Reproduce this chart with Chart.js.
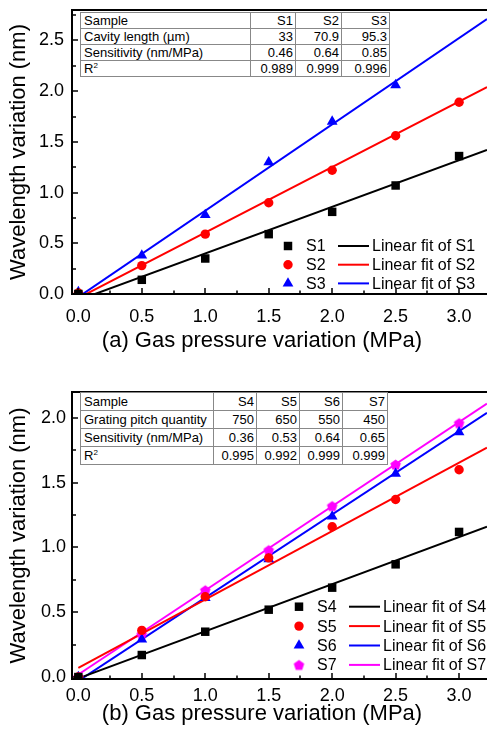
<!DOCTYPE html>
<html>
<head>
<meta charset="utf-8">
<script src="https://cdn.jsdelivr.net/npm/chart.js@4.4.4/dist/chart.umd.min.js"></script>
<style>
  body { margin: 0; background: #fff; font-family: "Liberation Sans", Arial, sans-serif; }
  .panel { position: absolute; left: 0; width: 487px; height: 366px; overflow: hidden; }
  .panel canvas { position: absolute; left: 0; top: 0; }
  table.info { position: absolute; border-collapse: collapse; table-layout: fixed; font-size: 13px; color: #000; background: #fff; }
  table.info td { border: 1px solid #888; padding: 0 2px; text-align: right; white-space: nowrap; overflow: hidden; }
  table.info td:first-child { text-align: left; padding-left: 3px; }
  #tblA td { line-height: 15px; }
  #tblB td { line-height: 17px; }
  table.info sup { font-size: 8px; vertical-align: 5px; line-height: 0; }
  .xtitle { position: absolute; font-size: 22px; line-height: 26px; white-space: nowrap; transform: translateX(-50%); }
</style>
</head>
<body>
<div class="panel" style="top:0"><canvas id="chartA" width="487" height="366"></canvas></div>
<div class="panel" style="top:366px"><canvas id="chartB" width="487" height="366"></canvas></div>

<table class="info" id="tblA" style="left:80px;top:12px;width:309px">
  <colgroup><col style="width:170px"><col style="width:45px"><col style="width:46px"><col style="width:48px"></colgroup>
  <tr><td>Sample</td><td>S1</td><td>S2</td><td>S3</td></tr>
  <tr><td>Cavity length (µm)</td><td>33</td><td>70.9</td><td>95.3</td></tr>
  <tr><td>Sensitivity (nm/MPa)</td><td>0.46</td><td>0.64</td><td>0.85</td></tr>
  <tr><td>R<sup>2</sup></td><td>0.989</td><td>0.999</td><td>0.996</td></tr>
</table>
<table class="info" id="tblB" style="left:80px;top:392px;width:307px">
  <colgroup><col style="width:133px"><col style="width:43px"><col style="width:43px"><col style="width:43px"><col style="width:45px"></colgroup>
  <tr><td>Sample</td><td>S4</td><td>S5</td><td>S6</td><td>S7</td></tr>
  <tr><td>Grating pitch quantity</td><td>750</td><td>650</td><td>550</td><td>450</td></tr>
  <tr><td>Sensitivity (nm/MPa)</td><td>0.36</td><td>0.53</td><td>0.64</td><td>0.65</td></tr>
  <tr><td>R<sup>2</sup></td><td>0.995</td><td>0.992</td><td>0.999</td><td>0.999</td></tr>
</table>

<div class="xtitle" style="left:262px;top:327px">(a) Gas pressure variation (MPa)</div>
<div class="xtitle" style="left:262px;top:700px">(b) Gas pressure variation (MPa)</div>

<script>
// ---- data ------------------------------------------------------------------
const pressure = [0, 0.5, 1.0, 1.5, 2.0, 2.5, 3.0];
const xTicks = [0, 0.5, 1.0, 1.5, 2.0, 2.5, 3.0];

// (a) cavity-length samples
const s1 = [0.00, 0.14, 0.35, 0.59, 0.81, 1.07, 1.36];
const s2 = [0.01, 0.28, 0.59, 0.90, 1.22, 1.56, 1.89];
const s3 = [0.02, 0.38, 0.78, 1.30, 1.70, 2.06]; // no reading at 3.0 MPa
const yTicksA = [0, 0.5, 1.0, 1.5, 2.0, 2.5];

// (b) grating-pitch samples
const s4 = [0.00, 0.17, 0.35, 0.52, 0.69, 0.87, 1.12];
const s5 = [0.00, 0.36, 0.62, 0.92, 1.16, 1.37, 1.60];
const s6 = [0.00, 0.29, 0.61, 0.91, 1.24, 1.57, 1.89];
const s7 = [0.00, 0.33, 0.67, 0.98, 1.32, 1.64, 1.96];
const yTicksB = [0, 0.5, 1.0, 1.5, 2.0];

// linear fits: value at the left and right end of the plotted range
const fitX = [0, 3.22];
const fitS1 = [-0.06, 1.42];
const fitS2 = [-0.04, 2.04];
const fitS3 = [-0.03, 2.71];
const fitS4 = [-0.01, 1.16];
const fitS5 = [0.07, 1.77];
const fitS6 = [-0.03, 2.04];
const fitS7 = [0.02, 2.11];

const FONT = '"Liberation Sans", Arial, sans-serif';
Chart.defaults.color = '#000';
Chart.defaults.font.family = FONT;

function pentagon(r, color) {
  const c = document.createElement('canvas');
  const s = Math.ceil(r * 2) + 2;
  c.width = c.height = s;
  const g = c.getContext('2d');
  g.fillStyle = color;
  g.beginPath();
  for (let k = 0; k < 5; k++) {
    const a = -Math.PI / 2 + k * 2 * Math.PI / 5;
    const px = s / 2 + r * Math.cos(a);
    const py = s / 2 + r * Math.sin(a) + r * 0.095;
    if (k) g.lineTo(px, py); else g.moveTo(px, py);
  }
  g.closePath();
  g.fill();
  return c;
}

const toPts = (xs, ys) => ys.map((v, i) => ({ x: xs[i], y: v }));

function markers(label, ys, color, style, radius) {
  return {
    label, data: toPts(pressure, ys), showLine: false,
    pointStyle: style, pointRadius: radius, pointHoverRadius: radius,
    pointBackgroundColor: color, pointBorderWidth: 0, backgroundColor: color, borderColor: color,
  };
}
function fitLine(label, ys, color) {
  return {
    label, data: toPts(fitX, ys), showLine: true, borderColor: color, borderWidth: 2,
    pointRadius: 0, pointHoverRadius: 0, fill: false,
  };
}

// inward tick marks + frame, drawn from the chart's own scales
const framePlugin = {
  id: 'frame',
  afterDraw(chart, args, o) {
    const { ctx, chartArea: a, scales: { x, y } } = chart;
    ctx.save();
    ctx.strokeStyle = '#000';
    ctx.lineWidth = 1.5;
    ctx.beginPath();
    for (let v = 0; v <= 3.2; v += 0.25) {
      const px = Math.round(x.getPixelForValue(v));
      const len = Math.abs(v * 2 - Math.round(v * 2)) < 1e-6 ? 6 : 3.5;
      ctx.moveTo(px, a.bottom);
      ctx.lineTo(px, a.bottom - len);
    }
    for (let v = 0; v <= o.yMax; v += 0.25) {
      const py = Math.round(y.getPixelForValue(v));
      const len = Math.abs(v * 2 - Math.round(v * 2)) < 1e-6 ? 6 : 4;
      ctx.moveTo(a.left, py);
      ctx.lineTo(a.left + len, py);
    }
    ctx.stroke();
    ctx.lineWidth = 2;
    ctx.strokeRect(a.left, a.top, a.right - a.left + 4, a.bottom - a.top);
    ctx.restore();
  },
};

// two-column legend: marker + name, line sample + fit name
const legendPlugin = {
  id: 'fitLegend',
  afterDraw(chart, args, o) {
    const ctx = chart.ctx;
    const sets = chart.data.datasets;
    const pts = sets.filter((d) => !d.showLine);
    const fits = sets.filter((d) => d.showLine);
    ctx.save();
    ctx.font = '16px ' + FONT;
    ctx.textBaseline = 'middle';
    ctx.fillStyle = '#000';
    pts.forEach((d, i) => {
      const yy = o.y0 + i * o.dy;
      ctx.fillStyle = d.pointBackgroundColor;
      Chart.helpers.drawPoint(ctx, { pointStyle: d.pointStyle, radius: d.pointRadius, rotation: 0, borderWidth: 0 }, o.markerX, yy);
      ctx.fillStyle = '#000';
      ctx.fillText(d.label, o.labelX, yy + 1);
      const f = fits[i];
      ctx.strokeStyle = f.borderColor;
      ctx.lineWidth = 2;
      ctx.beginPath();
      ctx.moveTo(o.lineX0, yy);
      ctx.lineTo(o.lineX1, yy);
      ctx.stroke();
      ctx.fillText(f.label, o.fitX, yy + 1);
    });
    ctx.restore();
  },
};

function makeChart(id, datasets, opt) {
  return new Chart(document.getElementById(id), {
    type: 'scatter',
    data: { datasets },
    options: {
      responsive: false,
      animation: false,
      events: [],
      // no auto padding for the point radius, so the plot runs to the right edge
      layout: { autoPadding: false, padding: { top: opt.top, right: 0, left: 0, bottom: 0 } },
      plugins: {
        legend: { display: false },
        tooltip: { enabled: false },
        frame: { yMax: opt.yMax },
        fitLegend: opt.legend,
      },
      scales: {
        x: {
          type: 'linear', min: -0.05, max: 3.22,
          afterBuildTicks: (s) => { s.ticks = xTicks.map((v) => ({ value: v })); },
          afterFit: (s) => { s.height = opt.xAxisH; s.paddingLeft = 0; s.paddingRight = 0; },
          grid: { display: false, drawTicks: false },
          border: { display: false },
          ticks: { font: { size: 18 }, padding: opt.xPad, maxRotation: 0, callback: (v) => v.toFixed(1) },
        },
        y: {
          type: 'linear', min: opt.yMin, max: opt.yMax,
          afterBuildTicks: (s) => { s.ticks = opt.yTicks.map((v) => ({ value: v })); },
          afterFit: (s) => { s.width = 72; s.paddingTop = 0; s.paddingBottom = 0; },
          grid: { display: false, drawTicks: false },
          border: { display: false },
          ticks: { font: { size: 18 }, padding: opt.yPad, callback: (v) => v.toFixed(1) },
          title: { display: true, text: 'Wavelength variation (nm)', font: { size: 22 }, padding: { top: 6, bottom: 0 } },
        },
      },
    },
    plugins: [framePlugin, legendPlugin],
  });
}

makeChart('chartA', [
  markers('S1', s1, '#000000', 'rect', 6),
  markers('S2', s2, '#ff0000', 'circle', 4.7),
  markers('S3', s3, '#0000ff', 'triangle', 6.2),
  fitLine('Linear fit of S1', fitS1, '#000000'),
  fitLine('Linear fit of S2', fitS2, '#ff0000'),
  fitLine('Linear fit of S3', fitS3, '#0000ff'),
], {
  top: 10, yMin: 0, yMax: 2.8, yTicks: yTicksA, xAxisH: 72, xPad: 12, yPad: 8,
  legend: { y0: 246, dy: 18.7, markerX: 288, labelX: 306, lineX0: 338, lineX1: 369, fitX: 372 },
});

makeChart('chartB', [
  markers('S4', s4, '#000000', 'rect', 6),
  markers('S5', s5, '#ff0000', 'circle', 4.7),
  markers('S6', s6, '#0000ff', 'triangle', 6.2),
  markers('S7', s7, '#ff00ff', pentagon(5.5, '#ff00ff'), 5.5),
  fitLine('Linear fit of S4', fitS4, '#000000'),
  fitLine('Linear fit of S5', fitS5, '#ff0000'),
  fitLine('Linear fit of S6', fitS6, '#0000ff'),
  fitLine('Linear fit of S7', fitS7, '#ff00ff'),
], {
  top: 26, yMin: -0.015, yMax: 2.2, yTicks: yTicksB, xAxisH: 53, xPad: 6, yPad: 6,
  legend: { y0: 240.7, dy: 19.4, markerX: 299, labelX: 317, lineX0: 349, lineX1: 380, fitX: 383 },
});
</script>
</body>
</html>
